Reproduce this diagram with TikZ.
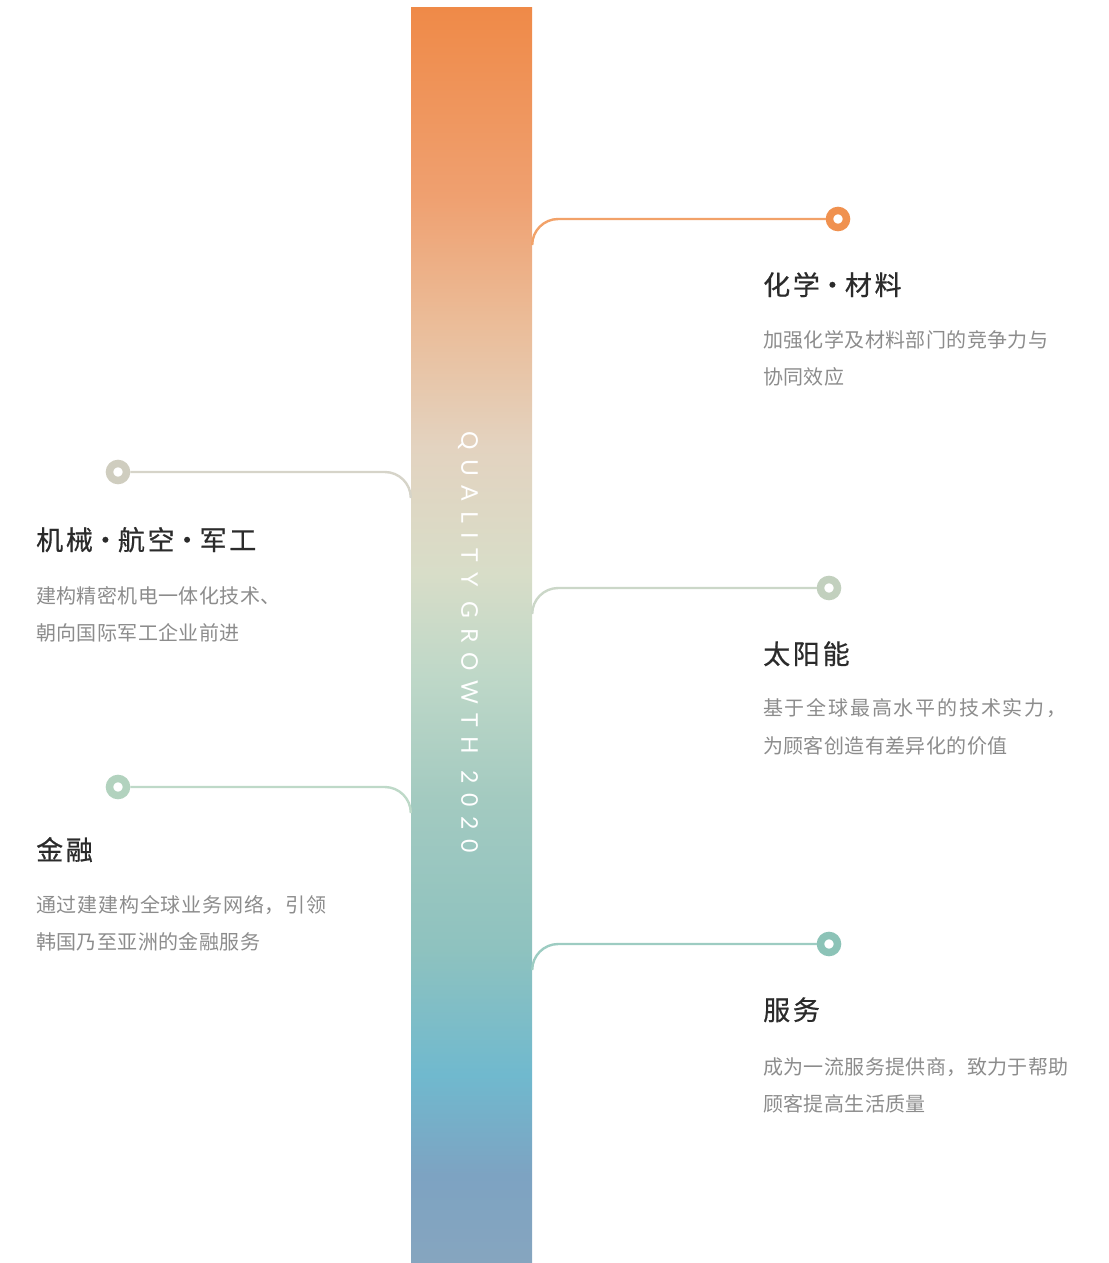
\documentclass[tikz,border=0pt]{standalone}
\usepackage{fontspec}
\newfontfamily\cjktitle[FakeBold=0.6,LetterSpace=10]{Noto Sans CJK SC}
\newfontfamily\cjkbody[LetterSpace=2]{Noto Sans CJK SC}
\newfontfamily\mottofont[LetterSpace=42]{Lato}
\newcommand{\tdot}{\hspace{-1pt}·\hspace{-1pt}}

\definecolor{barA}{HTML}{86A5BF}
\definecolor{barB}{HTML}{7DA3C2}
\definecolor{barC}{HTML}{70B9CE}
\definecolor{barD}{HTML}{8EC2BF}
\definecolor{barE}{HTML}{A3CAC0}
\definecolor{barF}{HTML}{BFD8C8}
\definecolor{barG}{HTML}{D8DDC8}
\definecolor{barH}{HTML}{E3D3C0}
\definecolor{barI}{HTML}{EBBC98}
\definecolor{barJ}{HTML}{EFA070}
\definecolor{barK}{HTML}{EF8A48}
\definecolor{dotChem}{HTML}{F0914F}
\definecolor{dotMech}{HTML}{CFCDBF}
\definecolor{dotSolar}{HTML}{C2D0BE}
\definecolor{dotFin}{HTML}{B2D2BE}
\definecolor{dotServ}{HTML}{8CC3B7}
\definecolor{titlegray}{HTML}{2B2B2B}
\definecolor{bodygray}{HTML}{8C8C8C}

% stops sit between 25bp and 75bp, the part TikZ fits to the path
\pgfdeclareverticalshading{barshade}{121bp}{color(0bp)=(barA); color(25bp)=(barA); color(28.5bp)=(barB); color(32.5bp)=(barC); color(37.5bp)=(barD); color(43.5bp)=(barE); color(48.5bp)=(barF); color(52.5bp)=(barG); color(57.5bp)=(barH); color(62.5bp)=(barI); color(67.5bp)=(barJ); color(75bp)=(barK); color(100bp)=(barK)}

\begin{document}
\begin{tikzpicture}[x=1pt, y=-1pt,
	bar/.style={rectangle, inner sep=0pt, minimum width=121pt, minimum height=1255pt, shading=barshade},
	dot/.style={circle, draw=#1, fill=white, line width=7.5pt, minimum size=17pt, inner sep=0pt},
	link/.style={draw=#1!85!white, line width=2.4pt, rounded corners=26pt},
	title/.style={anchor=base west, inner sep=0pt, text=titlegray, font=\cjktitle\fontsize{27}{27}\selectfont},
	body/.style={anchor=base west, inner sep=0pt, text=bodygray, font=\cjkbody\fontsize{20}{20}\selectfont}]
		\useasboundingbox (0,0) rectangle (1108,1263);
		
		% Gradient bar
		\node[bar] (bar) at (471.5,635.5) {};
		\node[rotate=-90, text=white, font=\mottofont\fontsize{23}{23}\selectfont] (motto) at (468,642) {QUALITY GROWTH 2020};
		
		% Dots
		\node[dot=dotChem] (chem) at (838,219) {};
		\node[dot=dotMech] (mech) at (118,472) {};
		\node[dot=dotSolar] (solar) at (829,588) {};
		\node[dot=dotFin] (fin) at (118,787) {};
		\node[dot=dotServ] (serv) at (829,944) {};
		
		% Links to the bar
		\draw[link=dotChem] (chem.west) -- (bar.east |- chem) -- ++(0,26);
		\draw[link=dotMech] (mech.east) -- (bar.west |- mech) -- ++(0,26);
		\draw[link=dotSolar] (solar.west) -- (bar.east |- solar) -- ++(0,26);
		\draw[link=dotFin] (fin.east) -- (bar.west |- fin) -- ++(0,26);
		\draw[link=dotServ] (serv.west) -- (bar.east |- serv) -- ++(0,26);
		
		% Texts
		\node[title] (chemT) at (763,295) {化学\tdot 材料};
		\node[body] (chemA) at (763,347) {加强化学及材料部门的竞争力与};
		\node[body] (chemB) at (763,384) {协同效应};
		
		\node[title] (mechT) at (36,550) {机械\tdot 航空\tdot 军工};
		\node[body] (mechA) at (36,603) {建构精密机电一体化技术、};
		\node[body] (mechB) at (36,640) {朝向国际军工企业前进};
		
		\node[title] (solarT) at (763,664) {太阳能};
		\node[body] (solarA) at (763,715) {\addfontfeature{LetterSpace=9}基于全球最高水平的技术实力，};
		\node[body] (solarB) at (763,753) {为顾客创造有差异化的价值};
		
		\node[title] (finT) at (36,860) {金融};
		\node[body] (finA) at (36,912) {\addfontfeature{LetterSpace=4}通过建建构全球业务网络，引领};
		\node[body] (finB) at (36,949) {韩国乃至亚洲的金融服务};
		
		\node[title] (servT) at (763,1020) {服务};
		\node[body] (servA) at (763,1074) {成为一流服务提供商，致力于帮助};
		\node[body] (servB) at (763,1111) {顾客提高生活质量};
		
	\end{tikzpicture}
\end{document}
